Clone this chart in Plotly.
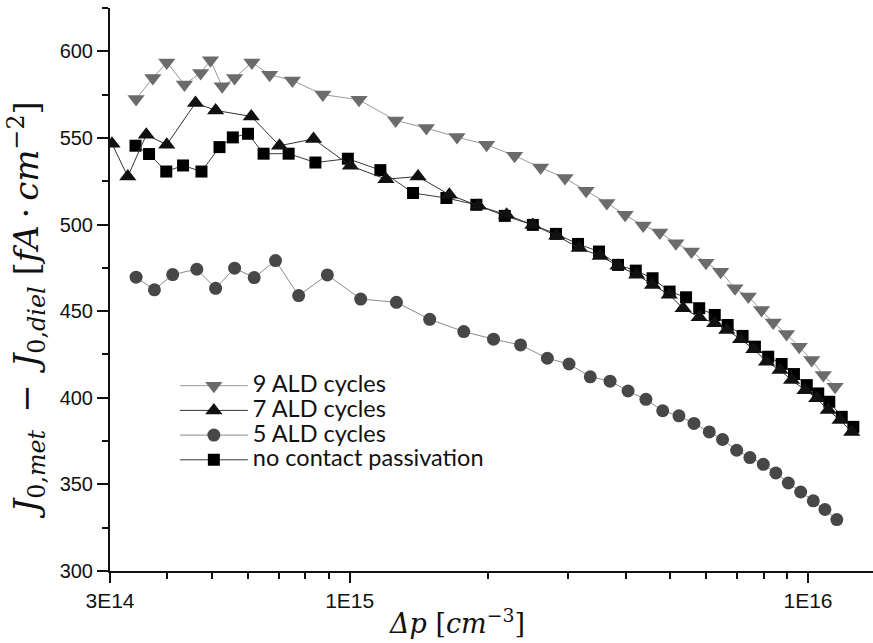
import plotly.graph_objects as go

# Excess carrier density (cm^-3) and J0 difference (fA/cm^2) per passivation variant
x_9ald = [3.42e14, 3.72e14, 3.99e14, 4.36e14, 4.73e14, 4.97e14, 5.27e14, 5.61e14, 6.12e14,
          6.69e14, 7.50e14, 8.74e14, 1.048e15, 1.26e15, 1.47e15, 1.715e15, 1.99e15, 2.29e15,
          2.61e15, 2.95e15, 3.28e15, 3.64e15, 3.99e15, 4.37e15, 4.75e15, 5.15e15, 5.57e15,
          5.99e15, 6.45e15, 6.93e15, 7.41e15, 7.92e15, 8.40e15, 8.98e15, 9.57e15, 1.019e16,
          1.08e16, 1.146e16]
y_9ald = [572.5, 584.6, 593.6, 580.8, 587.5, 594.8, 579.8, 584.6, 593.6,
          586.5, 583.2, 575.0, 572.0, 560.1, 555.7, 550.5, 546.1, 539.7,
          532.9, 526.8, 519.5, 512.4, 505.6, 499.4, 495.4, 489.2, 484.4,
          478.0, 472.8, 463.2, 458.4, 450.7, 443.4, 436.8, 429.5, 421.8,
          413.1, 406.4]

x_7ald = [3.03e14, 3.28e14, 3.60e14, 3.99e14, 4.61e14, 5.10e14, 6.10e14, 7.03e14, 8.34e14,
          1.004e15, 1.20e15, 1.41e15, 1.65e15, 1.91e15, 2.20e15, 2.51e15, 2.83e15, 3.17e15,
          3.52e15, 3.85e15, 4.23e15, 4.58e15, 4.98e15, 5.34e15, 5.79e15, 6.26e15, 6.65e15,
          7.13e15, 7.62e15, 8.12e15, 8.69e15, 9.21e15, 9.85e15, 1.045e16, 1.107e16, 1.175e16,
          1.246e16]
y_7ald = [546.6, 527.7, 551.8, 546.1, 570.2, 565.9, 562.4, 545.5, 549.4,
          533.9, 526.2, 527.7, 517.2, 510.8, 505.6, 499.8, 493.5, 486.4,
          481.9, 476.2, 471.0, 465.1, 459.4, 451.7, 446.5, 443.0, 439.1,
          433.8, 428.0, 420.8, 416.0, 410.2, 404.4, 399.7, 392.9, 387.1,
          380.3]

x_5ald = [3.42e14, 3.75e14, 4.11e14, 4.64e14, 5.10e14, 5.61e14, 6.19e14, 6.89e14, 7.74e14,
          8.94e14, 1.057e15, 1.265e15, 1.495e15, 1.774e15, 2.06e15, 2.36e15, 2.70e15, 3.01e15,
          3.35e15, 3.70e15, 4.05e15, 4.43e15, 4.82e15, 5.23e15, 5.64e15, 6.09e15, 6.51e15,
          6.99e15, 7.47e15, 7.99e15, 8.51e15, 9.06e15, 9.64e15, 1.027e16, 1.089e16, 1.156e16]
y_5ald = [469.6, 462.3, 471.1, 474.2, 463.2, 474.8, 469.4, 479.2, 459.0,
          470.9, 457.0, 455.1, 445.3, 438.2, 433.8, 430.5, 422.8, 419.5,
          412.1, 409.6, 403.9, 399.1, 392.5, 389.6, 385.2, 380.3, 375.9,
          369.7, 365.5, 361.6, 356.6, 350.8, 345.6, 340.5, 335.5, 329.7]

x_ncp = [3.41e14, 3.65e14, 3.98e14, 4.33e14, 4.75e14, 5.20e14, 5.56e14, 6.00e14, 6.49e14,
         7.36e14, 8.42e14, 9.91e14, 1.167e15, 1.375e15, 1.626e15, 1.89e15, 2.18e15, 2.51e15,
         2.82e15, 3.15e15, 3.50e15, 3.85e15, 4.21e15, 4.58e15, 4.99e15, 5.42e15, 5.79e15,
         6.26e15, 6.68e15, 7.20e15, 7.66e15, 8.19e15, 8.76e15, 9.32e15, 9.94e15, 1.053e16,
         1.113e16, 1.185e16, 1.256e16]
y_ncp = [545.5, 540.7, 530.6, 534.1, 530.6, 544.7, 550.3, 552.4, 540.9,
         540.9, 535.8, 538.0, 531.4, 518.2, 515.3, 511.4, 505.0, 499.8,
         494.6, 488.8, 484.4, 476.7, 473.4, 469.0, 461.3, 458.0, 451.7,
         447.8, 442.0, 435.7, 429.5, 423.7, 419.5, 413.7, 407.3, 402.5,
         397.7, 389.0, 383.2]

x_tick_vals = [3e14, 1e15, 1e16]
x_tick_text = ["3E14", "1E15", "1E16"]
x_minor_vals = [4e14, 5e14, 6e14, 7e14, 8e14, 9e14,
                2e15, 3e15, 4e15, 5e15, 6e15, 7e15, 8e15, 9e15]
y_tick_vals = [300, 350, 400, 450, 500, 550, 600]

x_title = "<i>Δp</i> [<i>cm</i><sup>−3</sup>]"
y_title = ("<i>J</i><sub>0,<i>met</i></sub>\u2002−\u2002<i>J</i><sub>0,<i>diel</i></sub> "
           "[<i>fA</i>\u2009·\u2009<i>cm</i><sup>−2</sup>]")


def legend_label(text):
    # legend rows stay tight while the label glyphs are drawn larger
    return '<span style="font-size:23.5px">' + text + "</span>"


fig = go.Figure()

# drawn bottom-up so triangles sit over squares; legend order reversed below
fig.add_trace(go.Scatter(
    x=x_ncp, y=y_ncp, name=legend_label("no contact passivation"), mode="lines+markers",
    line=dict(color="#3a3a3a", width=1),
    marker=dict(symbol="square", size=12, color="#000000")))
fig.add_trace(go.Scatter(
    x=x_5ald, y=y_5ald, name=legend_label("5 ALD cycles"), mode="lines+markers",
    line=dict(color="#8c8c8c", width=1),
    marker=dict(symbol="circle", size=13, color="#474747")))
fig.add_trace(go.Scatter(
    x=x_7ald, y=y_7ald, name=legend_label("7 ALD cycles"), mode="lines+markers",
    line=dict(color="#333333", width=1),
    marker=dict(symbol="triangle-up", size=15, color="#111111")))
fig.add_trace(go.Scatter(
    x=x_9ald, y=y_9ald, name=legend_label("9 ALD cycles"), mode="lines+markers",
    line=dict(color="#9a9a9a", width=1),
    marker=dict(symbol="triangle-down", size=15, color="#6b6b6b")))

title_family = "DejaVu Serif, Liberation Serif, serif"

fig.update_layout(
    width=873, height=643,
    margin=dict(l=110, r=0, t=8, b=72),
    plot_bgcolor="white", paper_bgcolor="white",
    showlegend=True,
    legend=dict(
        x=0.085, y=0.360, xanchor="left", yanchor="top",
        traceorder="reversed", bgcolor="rgba(0,0,0,0)",
        font=dict(family="Lato, Calibri, sans-serif", size=16.7, color="#111111"),
        itemwidth=68, tracegroupgap=0),
    xaxis=dict(
        type="log",
        range=[14.4771, 16.1419],
        tickvals=x_tick_vals, ticktext=x_tick_text,
        ticks="outside", ticklen=10, tickwidth=1.5, tickcolor="#111111",
        showline=True, linewidth=2, linecolor="#111111",
        showgrid=False, zeroline=False,
        tickfont=dict(family="Liberation Sans, Arial, sans-serif", size=21, color="#111111"),
        minor=dict(tickvals=x_minor_vals, ticks="outside", ticklen=6,
                   tickwidth=1.5, tickcolor="#111111", showgrid=False),
    ),
    yaxis=dict(
        range=[300, 625],
        tickvals=y_tick_vals,
        ticks="outside", ticklen=11, tickwidth=1.5, tickcolor="#111111",
        showline=True, linewidth=2, linecolor="#111111",
        showgrid=False, zeroline=False,
        tickfont=dict(family="Liberation Sans, Arial, sans-serif", size=20, color="#111111"),
        minor=dict(dtick=25, tick0=300, ticks="outside", ticklen=6,
                   tickwidth=1.5, tickcolor="#111111", showgrid=False),
    ),
    annotations=[
        dict(text=x_title, xref="paper", yref="paper", x=0.4548, y=-0.1235,
             xanchor="center", yanchor="bottom", showarrow=False,
             font=dict(family=title_family, size=27, color="#111111")),
        dict(text=y_title, xref="paper", yref="paper", x=-0.110, y=0.463,
             xanchor="center", yanchor="middle", textangle=-90, showarrow=False,
             font=dict(family=title_family, size=34, color="#111111")),
    ],
)

fig.write_html("out.html")
